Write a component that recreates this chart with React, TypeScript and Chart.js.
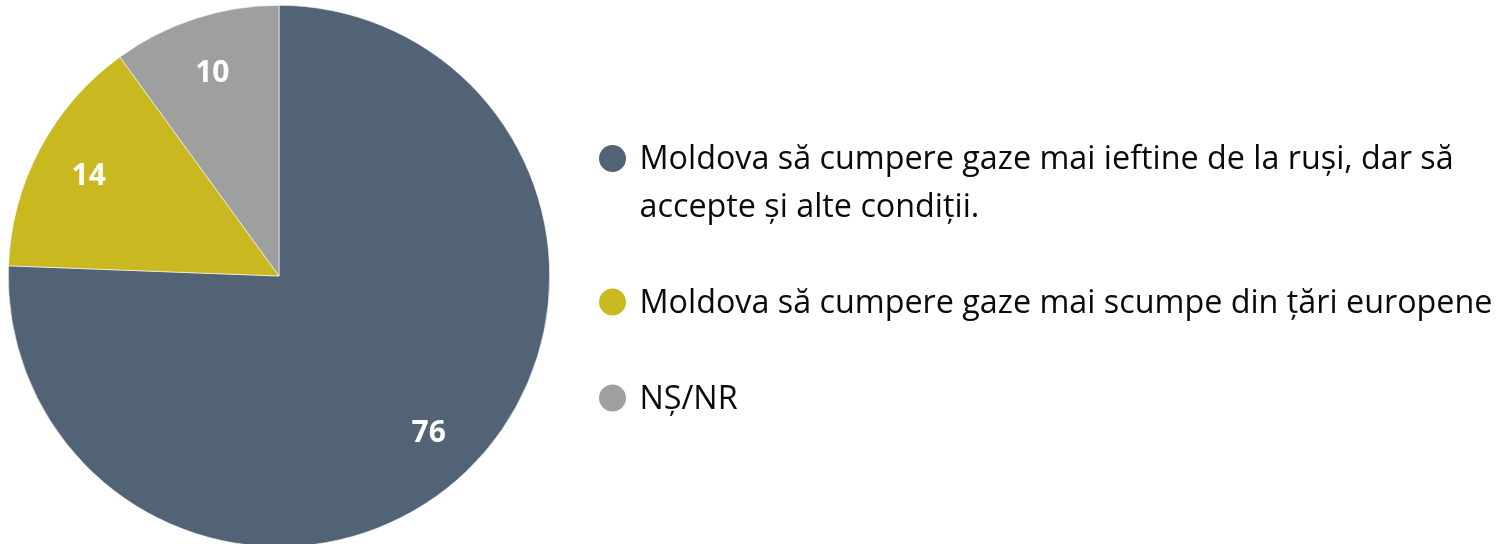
import React, { useEffect, useRef } from "react";
import { Chart, registerables } from "chart.js";

Chart.register(...registerables);

const categories: string[][] = [
  ["Moldova să cumpere gaze mai ieftine de la ruși, dar să", "accepte și alte condiții."],
  ["Moldova să cumpere gaze mai scumpe din țări europene"],
  ["NȘ/NR"],
];
const values: number[] = [75.6, 14.4, 10];
const colors: string[] = ["#536376", "#C9B81F", "#9EA0A0"];

const FONT = "'Open Sans', 'DejaVu Sans', sans-serif";

const labelPlugin = {
  id: "sliceLabels",
  afterDatasetsDraw(chart: any, _args: any, opts: any) {
    const ctx = chart.ctx;
    const meta = chart.getDatasetMeta(0);
    ctx.save();
    ctx.fillStyle = "#ffffff";
    ctx.font = `bold ${opts.size}px ${FONT}`;
    ctx.textAlign = "center";
    ctx.textBaseline = "alphabetic";
    meta.data.forEach((arc: any, i: number) => {
      const p = arc.getProps(["x", "y", "startAngle", "endAngle", "outerRadius"], true);
      const mid = (p.startAngle + p.endAngle) / 2;
      const r = p.outerRadius * opts.radiusFactor;
      const x = p.x + Math.cos(mid) * r;
      const y = p.y + Math.sin(mid) * r;
      ctx.fillText(String(Math.round(values[i])), x, y + opts.size * 0.36);
    });
    ctx.restore();
  },
};

const legendPlugin = {
  id: "sideLegend",
  afterDraw(chart: any, _args: any, opts: any) {
    const ctx = chart.ctx;
    ctx.save();
    ctx.font = `${opts.size}px ${FONT}`;
    ctx.textAlign = "left";
    ctx.textBaseline = "alphabetic";
    let y = opts.top;
    categories.forEach((lines, i) => {
      ctx.fillStyle = colors[i];
      ctx.beginPath();
      ctx.arc(opts.x, y - opts.dotLift, opts.dotRadius, 0, Math.PI * 2);
      ctx.fill();
      ctx.fillStyle = "#0a0a0a";
      lines.forEach((line, j) => {
        ctx.fillText(line, opts.x + opts.textGap, y + j * opts.lineHeight);
      });
      y += (lines.length - 1) * opts.lineHeight + opts.itemGap;
    });
    ctx.restore();
  },
};

export default function App() {
  const ref = useRef<HTMLCanvasElement | null>(null);
  useEffect(() => {
    if (!ref.current) return;
    const chart = new Chart(ref.current, {
      type: "pie",
      data: {
        labels: categories.map((l) => l.join(" ")),
        datasets: [
          {
            data: values,
            backgroundColor: colors,
            borderColor: "#ffffff",
            borderWidth: 0.6,
          },
        ],
      },
      options: {
        responsive: false,
        animation: false,
        layout: { padding: { left: 8, right: 955, top: 5, bottom: 13 } },
        plugins: {
          legend: { display: false },
          tooltip: { enabled: false },
          sliceLabels: { size: 30, radiusFactor: 0.797 },
          sideLegend: {
            x: 612.5,
            top: 169,
            dotLift: 10.5,
            dotRadius: 13.5,
            textGap: 27,
            size: 32.3,
            lineHeight: 47.5,
            itemGap: 96,
          },
        } as any,
      },
      plugins: [labelPlugin, legendPlugin],
    });
    return () => chart.destroy();
  }, []);
  return (
    <div style={{ position: "absolute", left: 0, top: 0, width: 1505, height: 560, background: "#ffffff" }}>
      <canvas ref={ref} width={1505} height={560} style={{ display: "block" }} />
    </div>
  );
}
